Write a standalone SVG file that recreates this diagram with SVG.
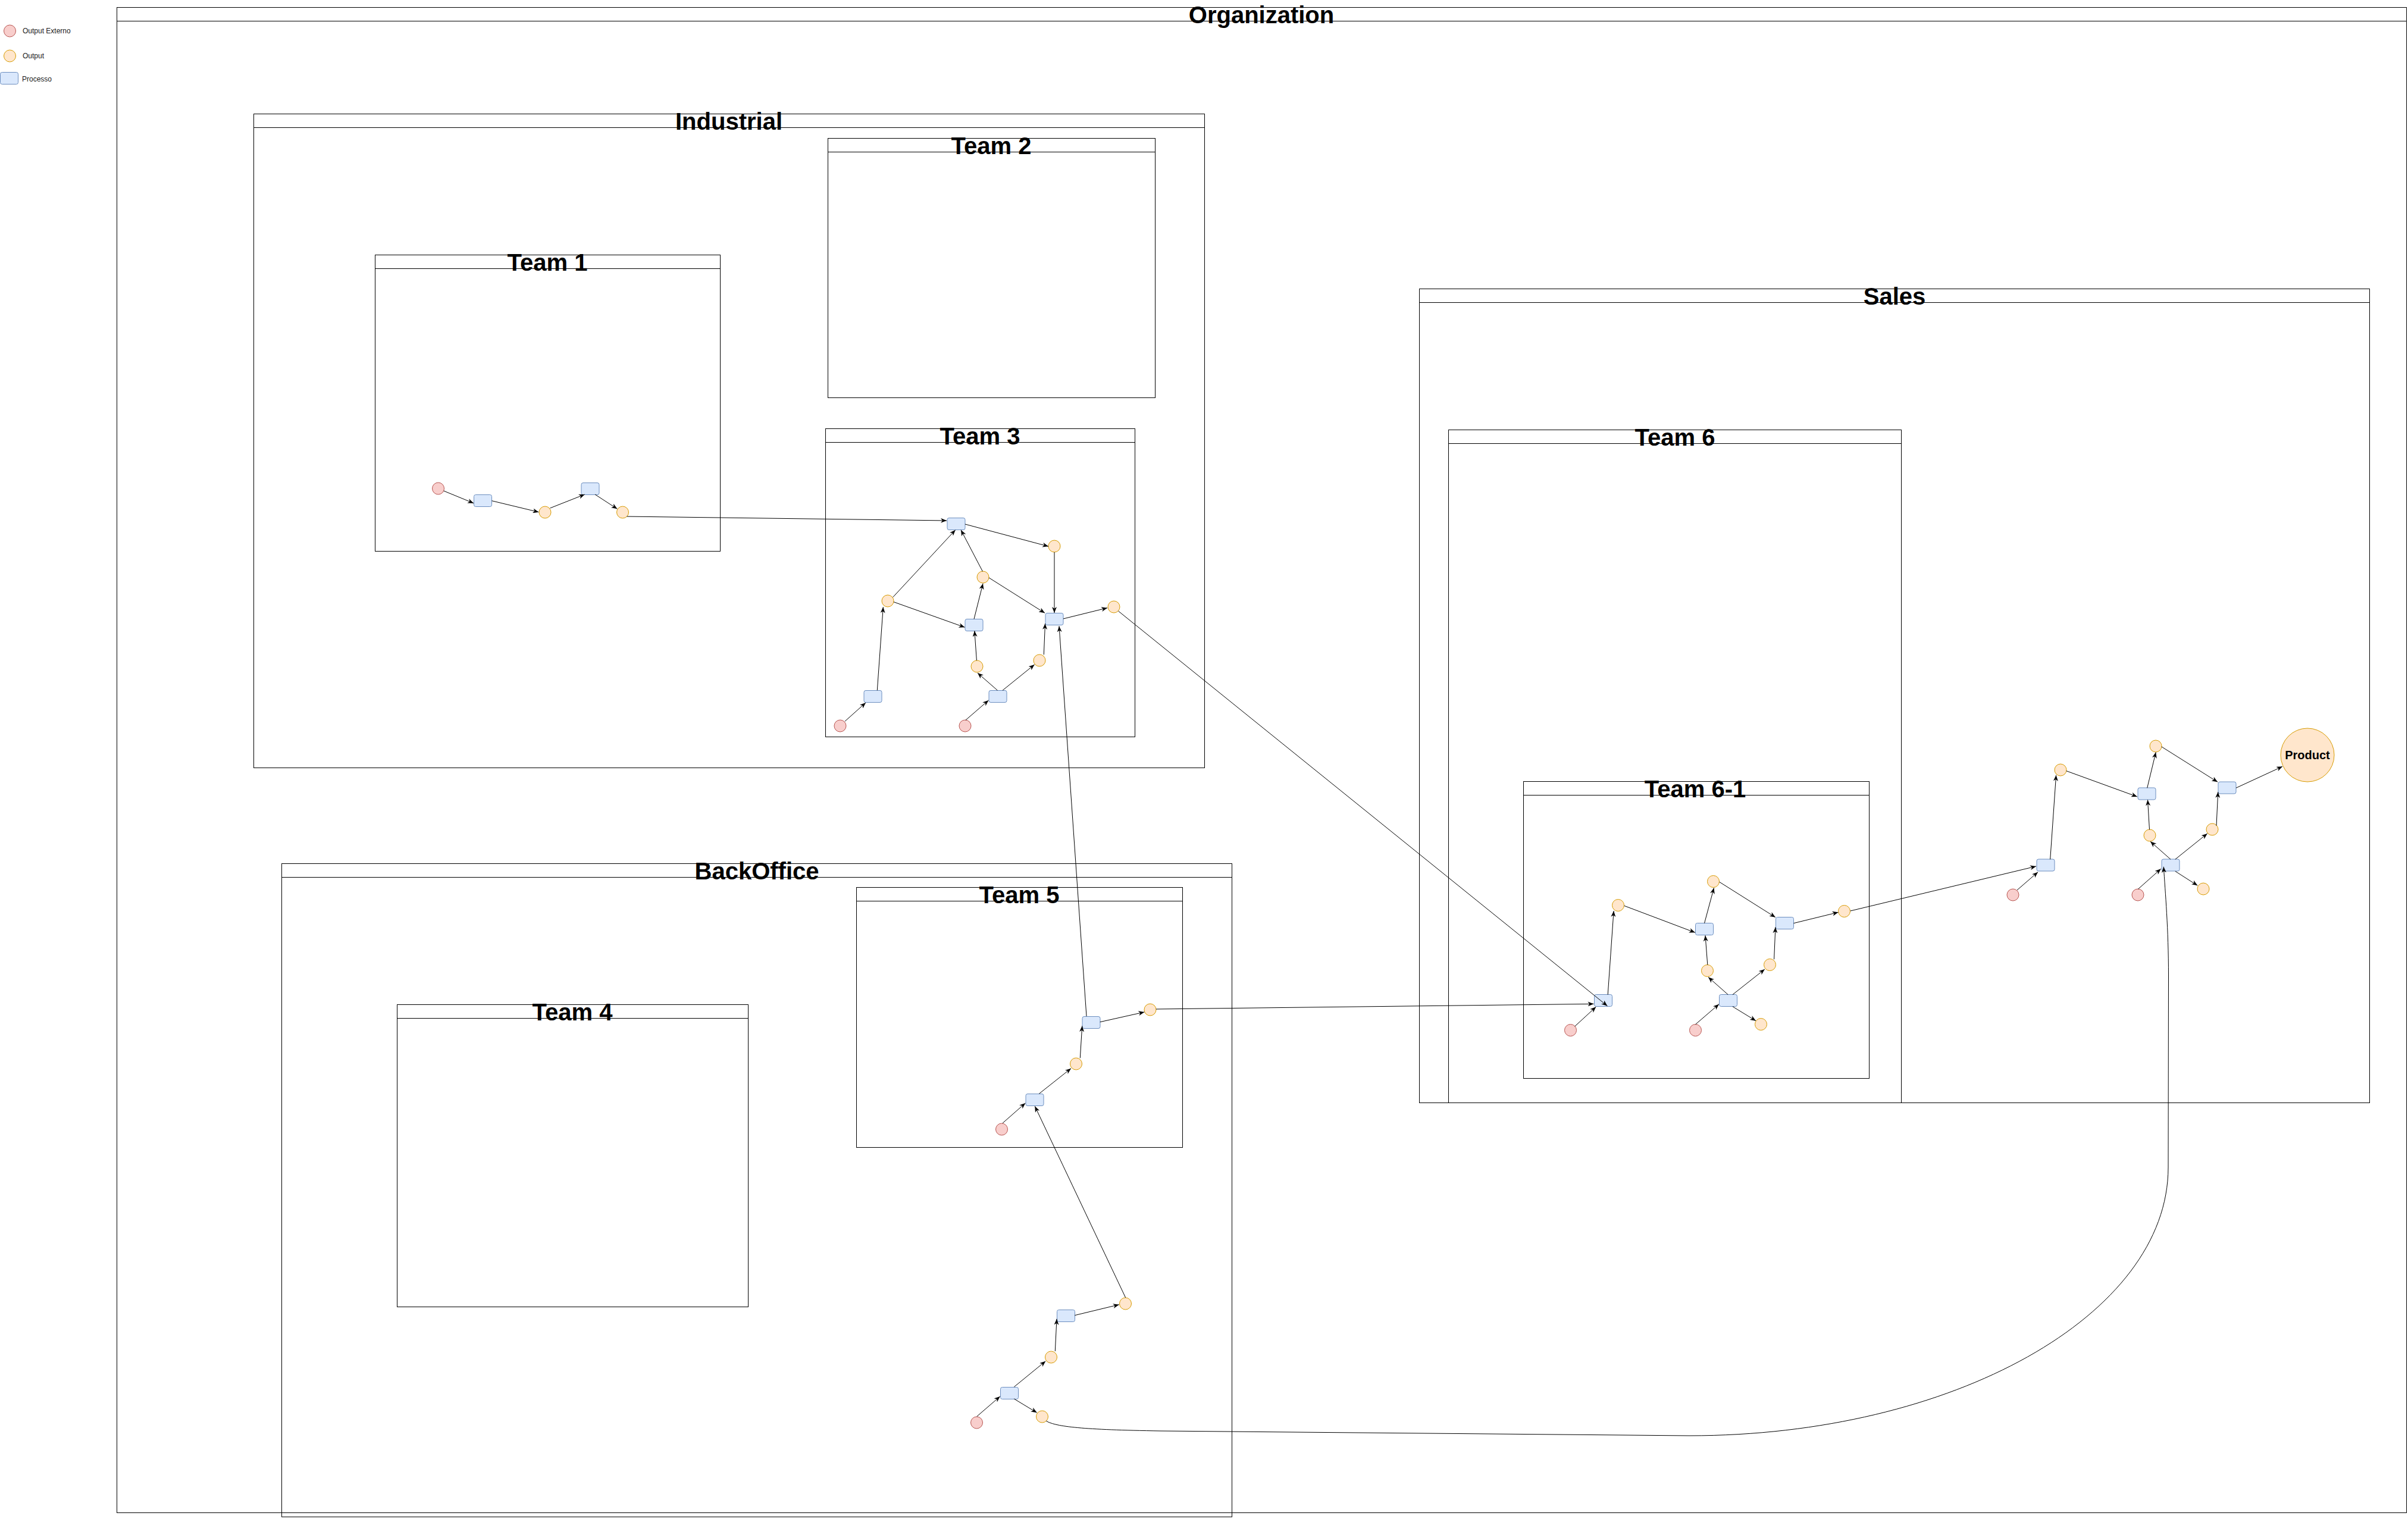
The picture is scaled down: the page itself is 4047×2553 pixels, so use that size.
<svg xmlns="http://www.w3.org/2000/svg" width="4047" height="2553" viewBox="0 0 4047 2553">
<style>
.box{fill:none;stroke:#000;stroke-width:1}
.hdr{stroke:#000;stroke-width:1}
.ttl{font-family:"Liberation Sans",Arial,sans-serif;font-size:40px;font-weight:bold;fill:#000;text-anchor:middle}
.lg{font-family:"Liberation Sans",Arial,sans-serif;font-size:12px;fill:#1a1a1a}
.ext{fill:#f8cecc;stroke:#b85450;stroke-width:1}
.out{fill:#ffe6cc;stroke:#d79b00;stroke-width:1}
.proc{fill:#dae8fc;stroke:#6c8ebf;stroke-width:1}
.e{fill:none;stroke:#000;stroke-width:1;marker-end:url(#arr)}
.pt{font-family:"Liberation Sans",Arial,sans-serif;font-size:20px;font-weight:bold;fill:#000;text-anchor:middle}
</style>
<defs>
<marker id="arr" viewBox="0 0 10 8" refX="10" refY="4" markerWidth="10" markerHeight="8" markerUnits="userSpaceOnUse" orient="auto">
<path d="M0,0 L10,4 L0,8 L3,4 Z" fill="#000"/>
</marker>
</defs>
<rect width="4047" height="2553" fill="#fff"/>

<g id="legend">
<g id="legend-ext"><circle class="ext" cx="16.5" cy="52" r="10"/><text class="lg" x="38" y="56">Output Externo</text></g>
<g id="legend-out"><circle class="out" cx="16.5" cy="94" r="10"/><text class="lg" x="38" y="98">Output</text></g>
<g id="legend-proc"><rect class="proc" x="0.5" y="121.5" width="30" height="20" rx="3"/><text class="lg" x="37" y="137">Processo</text></g>
</g>

<g id="containers">
<g id="organization"><rect class="box" x="196.5" y="12.5" width="3848" height="2530"/><line class="hdr" x1="196.5" y1="35.5" x2="4044.5" y2="35.5"/><text class="ttl" x="2120" y="38.5">Organization</text></g>
<g id="industrial"><rect class="box" x="426.5" y="191.5" width="1598" height="1099"/><line class="hdr" x1="426.5" y1="214.5" x2="2024.5" y2="214.5"/><text class="ttl" x="1225" y="217.5">Industrial</text></g>
<g id="team1"><rect class="box" x="630.5" y="428.5" width="580" height="498"/><line class="hdr" x1="630.5" y1="451.5" x2="1210.5" y2="451.5"/><text class="ttl" x="920" y="454.5">Team 1</text></g>
<g id="team2"><rect class="box" x="1391.5" y="232.5" width="550" height="436"/><line class="hdr" x1="1391.5" y1="255.5" x2="1941.5" y2="255.5"/><text class="ttl" x="1666" y="258.5">Team 2</text></g>
<g id="team3"><rect class="box" x="1387.5" y="720.5" width="520" height="518"/><line class="hdr" x1="1387.5" y1="743.5" x2="1907.5" y2="743.5"/><text class="ttl" x="1647" y="746.5">Team 3</text></g>
<g id="backoffice"><rect class="box" x="473.5" y="1451.5" width="1597" height="1098"/><line class="hdr" x1="473.5" y1="1474.5" x2="2070.5" y2="1474.5"/><text class="ttl" x="1272" y="1477.5">BackOffice</text></g>
<g id="team4"><rect class="box" x="667.5" y="1688.5" width="590" height="508"/><line class="hdr" x1="667.5" y1="1711.5" x2="1257.5" y2="1711.5"/><text class="ttl" x="962" y="1714.5">Team 4</text></g>
<g id="team5"><rect class="box" x="1439.5" y="1491.5" width="548" height="437"/><line class="hdr" x1="1439.5" y1="1514.5" x2="1987.5" y2="1514.5"/><text class="ttl" x="1713" y="1517.5">Team 5</text></g>
<g id="sales"><rect class="box" x="2385.5" y="485.5" width="1597" height="1368"/><line class="hdr" x1="2385.5" y1="508.5" x2="3982.5" y2="508.5"/><text class="ttl" x="3184" y="511.5">Sales</text></g>
<g id="team6"><rect class="box" x="2434.5" y="722.5" width="761" height="1131"/><line class="hdr" x1="2434.5" y1="745.5" x2="3195.5" y2="745.5"/><text class="ttl" x="2815" y="748.5">Team 6</text></g>
<g id="team6-1"><rect class="box" x="2560.5" y="1313.5" width="581" height="499"/><line class="hdr" x1="2560.5" y1="1336.5" x2="3141.5" y2="1336.5"/><text class="ttl" x="2849" y="1339.5">Team 6-1</text></g>
</g>

<g id="nodes">
<g id="t1-r1"><circle class="ext" cx="736.5" cy="821" r="10"/></g>
<g id="t1-p1"><rect class="proc" x="796.5" y="831.5" width="30" height="20" rx="3"/></g>
<g id="t1-o1"><circle class="out" cx="916" cy="861" r="10"/></g>
<g id="t1-p2"><rect class="proc" x="977" y="811.5" width="30" height="20" rx="3"/></g>
<g id="t1-o2"><circle class="out" cx="1046.5" cy="861" r="10"/></g>

<g id="t3-p1"><rect class="proc" x="1592" y="870.5" width="30" height="20" rx="3"/></g>
<g id="t3-o1"><circle class="out" cx="1772" cy="918" r="10"/></g>
<g id="t3-o2"><circle class="out" cx="1652" cy="970" r="10"/></g>
<g id="t3-o3"><circle class="out" cx="1492" cy="1010" r="10"/></g>
<g id="t3-p2"><rect class="proc" x="1622" y="1040.5" width="30" height="20" rx="3"/></g>
<g id="t3-p3"><rect class="proc" x="1757" y="1030.5" width="30" height="20" rx="3"/></g>
<g id="t3-o4"><circle class="out" cx="1872" cy="1020" r="10"/></g>
<g id="t3-o5"><circle class="out" cx="1642" cy="1120" r="10"/></g>
<g id="t3-o6"><circle class="out" cx="1747" cy="1110" r="10"/></g>
<g id="t3-p4"><rect class="proc" x="1452" y="1160.5" width="30" height="20" rx="3"/></g>
<g id="t3-p5"><rect class="proc" x="1662" y="1160.5" width="30" height="20" rx="3"/></g>
<g id="t3-r1"><circle class="ext" cx="1412" cy="1220" r="10"/></g>
<g id="t3-r2"><circle class="ext" cx="1622" cy="1220" r="10"/></g>

<g id="t5-r1"><circle class="ext" cx="1683.5" cy="1898" r="10"/></g>
<g id="t5-p1"><rect class="proc" x="1724" y="1838.5" width="30" height="20" rx="3"/></g>
<g id="t5-o1"><circle class="out" cx="1808.5" cy="1788" r="10"/></g>
<g id="t5-p2"><rect class="proc" x="1819" y="1708.5" width="30" height="20" rx="3"/></g>
<g id="t5-o2"><circle class="out" cx="1933" cy="1697" r="10"/></g>

<g id="bo-r1"><circle class="ext" cx="1641.5" cy="2391" r="10"/></g>
<g id="bo-p1"><rect class="proc" x="1681.5" y="2331.5" width="30" height="20" rx="3"/></g>
<g id="bo-o1"><circle class="out" cx="1766.5" cy="2281" r="10"/></g>
<g id="bo-o2"><circle class="out" cx="1751.5" cy="2381" r="10"/></g>
<g id="bo-p2"><rect class="proc" x="1776.5" y="2201.5" width="30" height="20" rx="3"/></g>
<g id="bo-o3"><circle class="out" cx="1891.5" cy="2191" r="10"/></g>

<g id="t61-r1"><circle class="ext" cx="2639.5" cy="1731.5" r="10"/></g>
<g id="t61-p1"><rect class="proc" x="2679.5" y="1671.5" width="30" height="20" rx="3"/></g>
<g id="t61-o1"><circle class="out" cx="2719.5" cy="1521.5" r="10"/></g>
<g id="t61-p2"><rect class="proc" x="2849.5" y="1551.5" width="30" height="20" rx="3"/></g>
<g id="t61-o2"><circle class="out" cx="2879.5" cy="1481.5" r="10"/></g>
<g id="t61-o3"><circle class="out" cx="2869.5" cy="1631.5" r="10"/></g>
<g id="t61-p3"><rect class="proc" x="2889.5" y="1671.5" width="30" height="20" rx="3"/></g>
<g id="t61-r2"><circle class="ext" cx="2849.5" cy="1731.5" r="10"/></g>
<g id="t61-o4"><circle class="out" cx="2959.5" cy="1721.5" r="10"/></g>
<g id="t61-o5"><circle class="out" cx="2974.5" cy="1621.5" r="10"/></g>
<g id="t61-p4"><rect class="proc" x="2984.5" y="1541.5" width="30" height="20" rx="3"/></g>
<g id="t61-o6"><circle class="out" cx="3099.5" cy="1531.5" r="10"/></g>

<g id="s-r1"><circle class="ext" cx="3383" cy="1504" r="10"/></g>
<g id="s-p1"><rect class="proc" x="3423" y="1444" width="30" height="20" rx="3"/></g>
<g id="s-o1"><circle class="out" cx="3463" cy="1294" r="10"/></g>
<g id="s-p2"><rect class="proc" x="3593" y="1324" width="30" height="20" rx="3"/></g>
<g id="s-o2"><circle class="out" cx="3623" cy="1254" r="10"/></g>
<g id="s-o3"><circle class="out" cx="3613" cy="1404" r="10"/></g>
<g id="s-p3"><rect class="proc" x="3633" y="1444" width="30" height="20" rx="3"/></g>
<g id="s-r2"><circle class="ext" cx="3593" cy="1504" r="10"/></g>
<g id="s-o4"><circle class="out" cx="3703" cy="1494" r="10"/></g>
<g id="s-o5"><circle class="out" cx="3718" cy="1394" r="10"/></g>
<g id="s-p4"><rect class="proc" x="3728" y="1314" width="30" height="20" rx="3"/></g>
<g id="product"><circle class="out" cx="3878" cy="1269" r="45"/><text class="pt" x="3878" y="1276">Product</text></g>
</g>

<g id="connectors">
<path class="e" d="M745.7,825 L796,845.7"/>
<path class="e" d="M826.6,841.7 L905.4,860.7"/>
<path class="e" d="M924.5,854 L982.7,831"/>
<path class="e" d="M1000,831 L1037.4,855.3"/>
<path class="e" d="M1053.5,868 L1591,875"/>

<path class="e" d="M1622,881 L1762,918.3"/>
<path class="e" d="M1772,928 L1772,1030"/>
<path class="e" d="M1651.4,960.3 L1615,890.7"/>
<path class="e" d="M1662,971 L1756,1030.3"/>
<path class="e" d="M1500.7,1003.7 L1605.7,890.7"/>
<path class="e" d="M1502,1011.7 L1621.4,1054.3"/>
<path class="e" d="M1637,1040.3 L1652,980.7"/>
<path class="e" d="M1641.4,1110 L1637.9,1060.3"/>
<path class="e" d="M1754.3,1100.3 L1756.5,1048"/>
<path class="e" d="M1787,1040 L1861,1021.7"/>
<path class="e" d="M1474.3,1160.3 L1484.3,1020.3"/>
<path class="e" d="M1420,1212.3 L1455,1181"/>
<path class="e" d="M1622.9,1210.3 L1661.4,1177"/>
<path class="e" d="M1676.4,1160.3 L1642.9,1131"/>
<path class="e" d="M1685,1160.3 L1738.6,1117"/>
<path class="e" d="M1879.5,1027 L2701.4,1690.7"/>
<path class="e" d="M1826,1708 L1780,1052.3"/>

<path class="e" d="M1685,1887.7 L1723.3,1854"/>
<path class="e" d="M1746.3,1838.3 L1800,1795.7"/>
<path class="e" d="M1815.3,1778.3 L1818.7,1724.3"/>
<path class="e" d="M1848.7,1717.7 L1923.3,1701"/>
<path class="e" d="M1943,1696 L2678.5,1687.3"/>

<path class="e" d="M1641.7,2380.7 L1680.7,2347"/>
<path class="e" d="M1704.3,2331 L1757.3,2287.7"/>
<path class="e" d="M1704.3,2351 L1742.7,2374.3"/>
<path class="e" d="M1773.3,2271 L1776,2216.7"/>
<path class="e" d="M1806.3,2210.7 L1880.7,2192.7"/>
<path class="e" d="M1891.7,2181 L1739.3,1859.3"/>
<path class="e" d="M1758.3,2388.3 C1775,2398 1820,2403 1950,2405 L2839,2413 C3282,2413 3644,2210 3644,1962 L3644.5,1640 C3644.5,1560 3639,1500 3636.3,1456.7"/>

<path class="e" d="M2646.7,1725 L2682.3,1692.3"/>
<path class="e" d="M2702.2,1671.7 L2712.1,1531"/>
<path class="e" d="M2729.7,1522.3 L2848.8,1567.3"/>
<path class="e" d="M2864.5,1551.7 L2880.5,1492.3"/>
<path class="e" d="M2869.8,1621.7 L2866,1572.3"/>
<path class="e" d="M2889.7,1482.3 L2983.9,1541.7"/>
<path class="e" d="M2904.2,1671.7 L2871,1642.3"/>
<path class="e" d="M2911.9,1671.7 L2965.9,1629"/>
<path class="e" d="M2981.6,1612.3 L2983.9,1558.3"/>
<path class="e" d="M2911.9,1691.7 L2951,1715.7"/>
<path class="e" d="M2849.5,1721.7 L2889,1687.7"/>
<path class="e" d="M3014.5,1551.7 L3089.5,1533.3"/>
<path class="e" d="M3109.8,1531 L3422,1456"/>

<path class="e" d="M3390,1496 L3425,1465.7"/>
<path class="e" d="M3445.7,1444.3 L3455.6,1302.7"/>
<path class="e" d="M3472.8,1295.7 L3591.9,1339"/>
<path class="e" d="M3608.7,1324.3 L3623.2,1264.3"/>
<path class="e" d="M3612.5,1394.3 L3609.5,1344.3"/>
<path class="e" d="M3632.8,1255 L3727,1314.3"/>
<path class="e" d="M3648,1444.3 L3614,1414.3"/>
<path class="e" d="M3655.8,1444.3 L3709.7,1401"/>
<path class="e" d="M3725,1387.7 L3727.7,1331"/>
<path class="e" d="M3655.8,1464.3 L3693.3,1488.3"/>
<path class="e" d="M3593.4,1494.3 L3631.7,1460.3"/>
<path class="e" d="M3758,1324.3 L3836,1288.3"/>
</g>
</svg>
